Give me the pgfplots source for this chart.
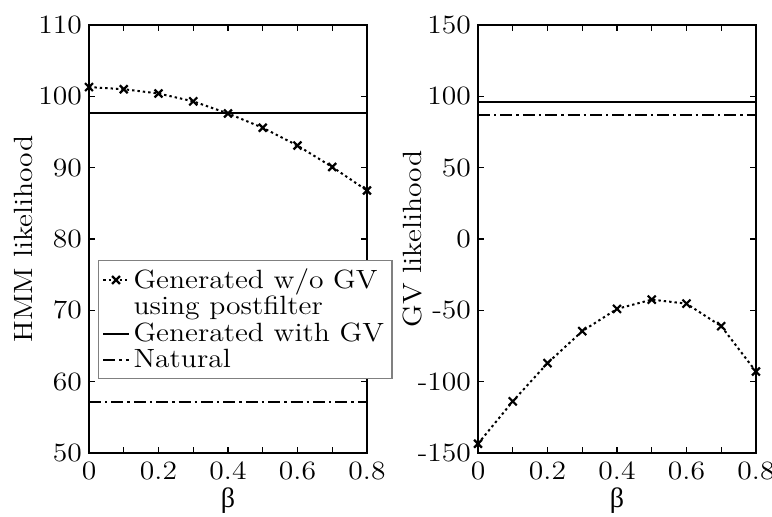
\documentclass[border=0pt]{standalone}
\usepackage{fontspec}
\usepackage{pgfplots}
\pgfplotsset{compat=1.18}
\setmainfont{Latin Modern Roman}[FakeStretch=1.12]
\newfontfamily\grk{Liberation Serif}
\newcommand{\fs}{\fontsize{13.2}{15}\selectfont}
\pgfplotsset{
  common/.style={
    scale only axis, width=139pt, height=214pt,
    xmin=0, xmax=0.8,
    xtick={0,0.2,0.4,0.6,0.8}, xticklabels={0,0.2,0.4,0.6,0.8},
    minor xtick={0.1,0.3,0.5,0.7},
    tick align=inside, major tick length=3pt, minor tick length=3pt,
    every tick/.style={black, line width=0.7pt},
    axis line style={line width=1pt, black},
    tick label style={font=\fs},
    xticklabel style={yshift=-1pt},
    xlabel={\grk\fontsize{14}{16}\selectfont β},
    every axis x label/.style={at={(axis description cs:0.5,-0.112)}, anchor=center, font=\fs},
    legend image code/.code={\draw[mark repeat=2,mark phase=2,#1] plot coordinates {(0cm,0cm) (0.22cm,0cm) (0.44cm,0cm)};},
  },
  gen/.style={black, line width=1pt, dash pattern=on 1.2pt off 1.5pt, mark=x, mark size=2.8pt, mark options={solid, line width=1.1pt}},
  gv/.style={black, line width=1pt},
  nat/.style={black, line width=1pt, dash pattern=on 6pt off 2pt on 1.2pt off 2pt},
}
\begin{document}
\begin{tikzpicture}
\begin{axis}[common, at={(0pt,0pt)}, anchor=south west,
  ymin=50, ymax=110, ytick={50,60,70,80,90,100,110},
  yticklabels={50,60,70,80,90,100,110},
  ylabel={HMM likelihood},
  every axis y label/.style={at={(axis description cs:-0.237,0.5)}, rotate=90, anchor=center, font=\fs},
  legend style={at={(0.032,0.451)}, anchor=north west, draw=gray, line width=0.6pt, fill=white,
    font=\fs, legend cell align=left, inner xsep=2pt, inner ysep=2pt, row sep=-1.5pt},
]
\addplot[gen] coordinates {(0,101.3) (0.1,101.0) (0.2,100.4) (0.3,99.3) (0.4,97.6) (0.5,95.6) (0.6,93.1) (0.7,90.1) (0.8,86.8)};
\addlegendimage{empty legend}
\addplot[gv] coordinates {(0,97.6) (0.8,97.6)};
\addplot[nat] coordinates {(0,57.2) (0.8,57.2)};
\legend{Generated w/o GV, using postfilter, Generated with GV, Natural}
\end{axis}
\begin{axis}[common, at={(194.5pt,0pt)}, anchor=south west,
  ymin=-150, ymax=150, ytick={-150,-100,-50,0,50,100,150},
  yticklabels={\textrm{-150},\textrm{-100},\textrm{-50},0,50,100,150},
  ylabel={GV likelihood},
  every axis y label/.style={at={(axis description cs:-0.237,0.5)}, rotate=90, anchor=center, font=\fs},
]
\addplot[gen] coordinates {(0,-143.5) (0.1,-113.8) (0.2,-87.0) (0.3,-64.6) (0.4,-49.0) (0.5,-42.5) (0.6,-45.3) (0.7,-61.1) (0.8,-92.9)};
\addplot[gv] coordinates {(0,96) (0.8,96)};
\addplot[nat] coordinates {(0,86.6) (0.8,86.6)};
\end{axis}
\pgfresetboundingbox
\useasboundingbox (-44.5pt,-31.5pt) rectangle (341.5pt,226.5pt);
\end{tikzpicture}
\end{document}
